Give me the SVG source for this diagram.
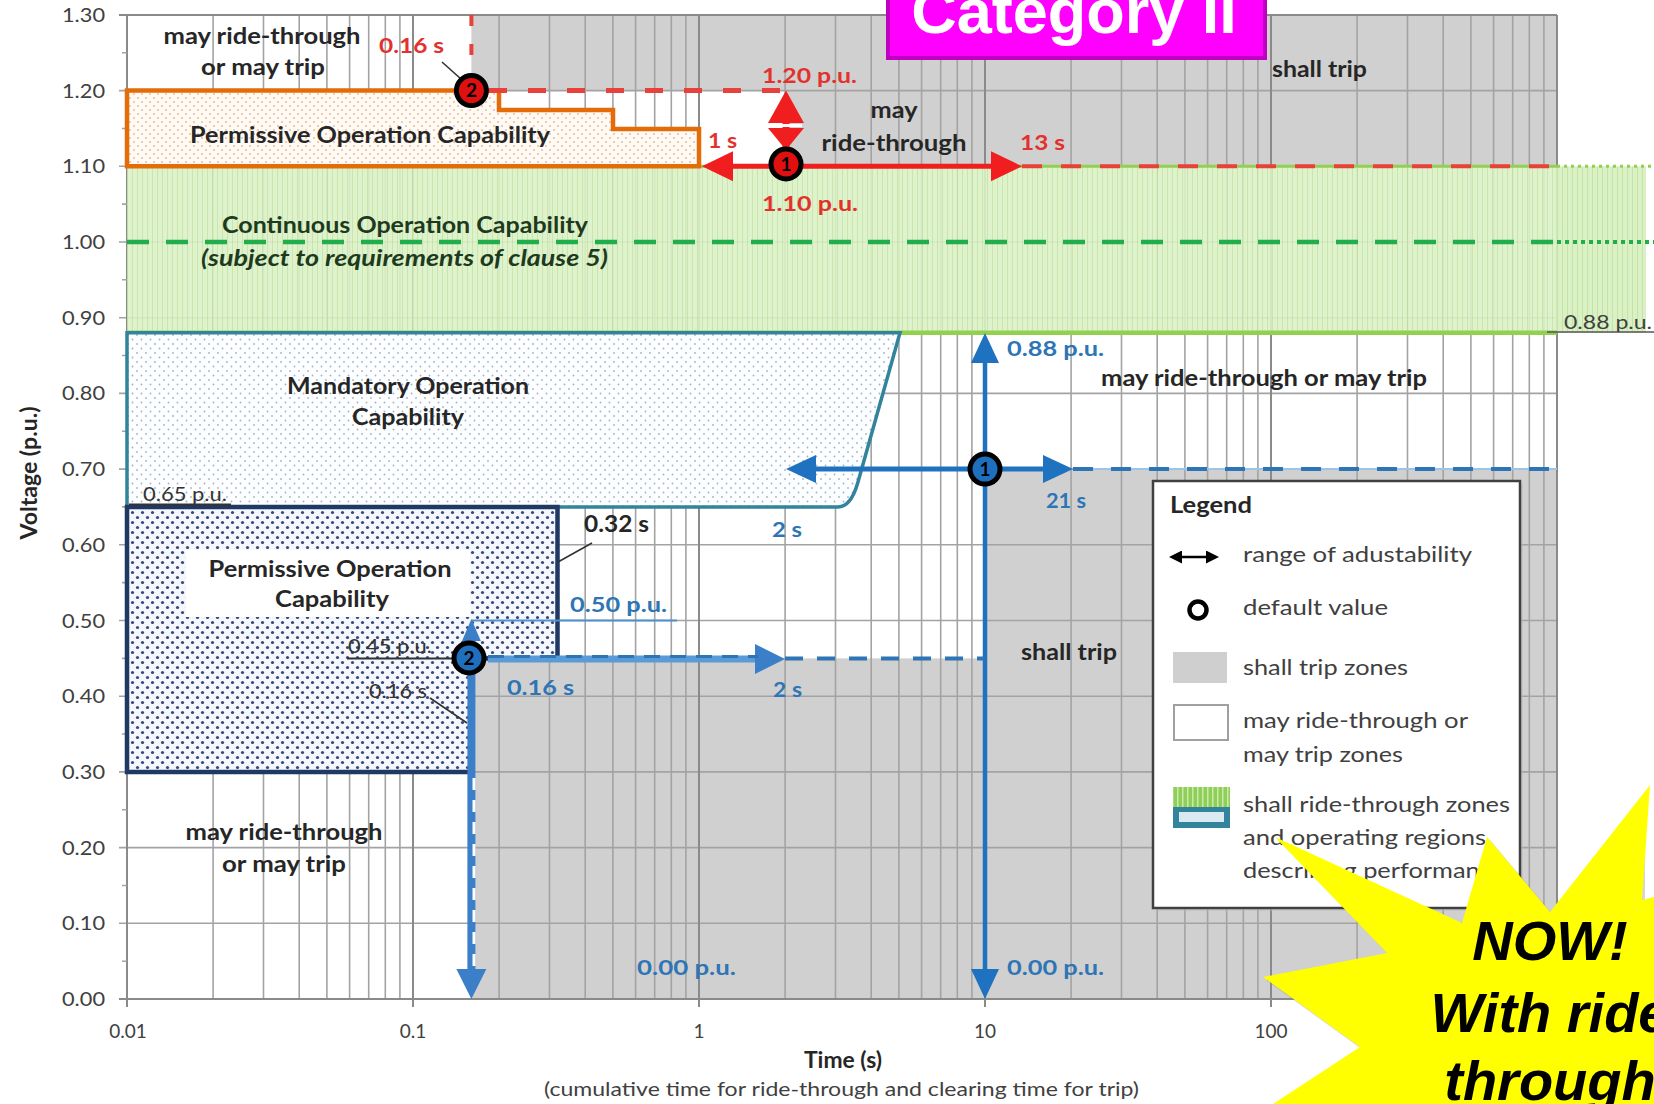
<svg xmlns="http://www.w3.org/2000/svg" width="1654" height="1104" viewBox="0 0 1654 1104">
<defs>
<style>
text{font-family:Lato,"Open Sans","DejaVu Sans",sans-serif}
.lb{font-weight:bold;font-size:22px;fill:#262626}
.red{font-weight:bold;font-size:21px;fill:#e3312d}
.blue{font-weight:bold;font-size:21px;fill:#2e75b6}
.ax{font-size:19px;fill:#404040}
.sm{font-size:19px;fill:#333}
.lg{font-size:21px;fill:#404040}
.num{font-weight:bold;font-size:19px;fill:#000;text-anchor:middle}
.ctr{text-anchor:middle}
.end{text-anchor:end}
.grid{fill:none;stroke:#a3a3a3;stroke-width:1.6}
.gridM{fill:none;stroke:#8a8a8a;stroke-width:2}
.lead{stroke:#333;stroke-width:1.6;fill:none}
.star{font-family:"Liberation Sans",Arial,sans-serif;font-weight:bold;font-style:italic;font-size:56px;fill:#000;text-anchor:middle}
</style>
<pattern id="pOr" width="8" height="8" patternUnits="userSpaceOnUse"><rect width="8" height="8" fill="#fffaf4"/><circle cx="2" cy="2" r="1" fill="#e6bd9c"/><circle cx="6" cy="6" r="1" fill="#e6bd9c"/></pattern>
<pattern id="pTe" width="9" height="9" patternUnits="userSpaceOnUse"><rect width="9" height="9" fill="#fdfeff"/><circle cx="2" cy="2" r="0.9" fill="#a3b3c3"/><circle cx="6.5" cy="6.5" r="0.9" fill="#a3b3c3"/></pattern>
<pattern id="pNv" width="10" height="10" patternUnits="userSpaceOnUse"><rect width="10" height="10" fill="#f5f7fc"/><circle cx="2.5" cy="2.5" r="1.6" fill="#34497a"/><circle cx="7.5" cy="7.5" r="1.6" fill="#34497a"/></pattern>
<pattern id="pGr" width="5" height="10" patternUnits="userSpaceOnUse"><rect width="5" height="10" fill="#daf0c5"/><rect x="2" width="1" height="10" fill="#c4e3a5"/></pattern>
<pattern id="pGrI" width="5" height="6" patternUnits="userSpaceOnUse"><rect width="5" height="6" fill="#8fce58"/><rect x="2" width="1.5" height="6" fill="#c9eaa8"/></pattern>
<marker id="hR" markerUnits="userSpaceOnUse" markerWidth="32" markerHeight="32" viewBox="0 0 32 32" refX="16" refY="16" orient="auto-start-reverse"><path d="M0 1L31 16L0 31Z" fill="#f01e1e"/></marker>
<marker id="hB" markerUnits="userSpaceOnUse" markerWidth="30" markerHeight="30" viewBox="0 0 30 30" refX="15" refY="15" orient="auto-start-reverse"><path d="M0 1L30 15L0 29Z" fill="#1f72c0"/></marker>
<marker id="hB2" markerUnits="userSpaceOnUse" markerWidth="30" markerHeight="32" viewBox="0 0 30 32" refX="15" refY="16" orient="auto-start-reverse"><path d="M0 1L30 16L0 31Z" fill="#3a7fc8"/></marker>
<marker id="hK" markerUnits="userSpaceOnUse" markerWidth="13" markerHeight="13" viewBox="0 0 13 13" refX="6" refY="6.5" orient="auto-start-reverse"><path d="M0 0L13 6.5L0 13Z" fill="#000"/></marker>
</defs>

<rect width="1654" height="1104" fill="#fff"/>

<g id="shall-trip-zones" fill="#d0d0d0">
<rect x="471.4" y="14.9" width="1085.6" height="75.7"/>
<rect x="785.1" y="90.6" width="771.9" height="75.7"/>
<rect x="985" y="469.1" width="572" height="529.9"/>
<rect x="471.4" y="658.4" width="513.6" height="340.6"/>
</g>

<g id="grid">
<path class="grid" d="M213.1 14.9V999M263.5 14.9V999M299.2 14.9V999M326.9 14.9V999M349.6 14.9V999M368.7 14.9V999M385.3 14.9V999M399.9 14.9V999M499.1 14.9V999M549.5 14.9V999M585.2 14.9V999M612.9 14.9V999M635.6 14.9V999M654.7 14.9V999M671.3 14.9V999M685.9 14.9V999M785.1 14.9V999M835.5 14.9V999M871.2 14.9V999M898.9 14.9V999M921.6 14.9V999M940.7 14.9V999M957.3 14.9V999M971.9 14.9V999M1071.1 14.9V999M1121.5 14.9V999M1157.2 14.9V999M1184.9 14.9V999M1207.6 14.9V999M1226.7 14.9V999M1243.3 14.9V999M1257.9 14.9V999M1357.1 14.9V999M1407.5 14.9V999M1443.2 14.9V999M1470.9 14.9V999M1493.6 14.9V999M1512.7 14.9V999M1529.3 14.9V999M1543.9 14.9V999"/>
<path class="grid" d="M119 90.6H1557M119 166.3H1557M119 242H1557M119 317.7H1557M119 393.4H1557M119 469.1H1557M119 544.8H1557M119 620.5H1557M119 696.2H1557M119 771.9H1557M119 847.6H1557M119 923.3H1557"/>
<path class="gridM" d="M127 14.9V1007M413 14.9V1007M699 14.9V1007M985 14.9V1007M1271 14.9V1007M1557 14.9V1007M119 14.9H1557M119 999H1557"/>
<path class="grid" d="M122 961.2H127M122 885.5H127M122 809.8H127M122 734H127M122 658.4H127M122 582.6H127M122 506.9H127M122 431.2H127M122 355.5H127M122 279.8H127M122 204.1H127M122 128.5H127M122 52.8H127"/>
</g>

<g id="axes">
<text class="ax end" x="105" y="21.9" textLength="43" lengthAdjust="spacingAndGlyphs">1.30</text>
<text class="ax end" x="105" y="97.6" textLength="43" lengthAdjust="spacingAndGlyphs">1.20</text>
<text class="ax end" x="105" y="173.3" textLength="43" lengthAdjust="spacingAndGlyphs">1.10</text>
<text class="ax end" x="105" y="249" textLength="43" lengthAdjust="spacingAndGlyphs">1.00</text>
<text class="ax end" x="105" y="324.7" textLength="43" lengthAdjust="spacingAndGlyphs">0.90</text>
<text class="ax end" x="105" y="400.4" textLength="43" lengthAdjust="spacingAndGlyphs">0.80</text>
<text class="ax end" x="105" y="476.1" textLength="43" lengthAdjust="spacingAndGlyphs">0.70</text>
<text class="ax end" x="105" y="551.8" textLength="43" lengthAdjust="spacingAndGlyphs">0.60</text>
<text class="ax end" x="105" y="627.5" textLength="43" lengthAdjust="spacingAndGlyphs">0.50</text>
<text class="ax end" x="105" y="703.2" textLength="43" lengthAdjust="spacingAndGlyphs">0.40</text>
<text class="ax end" x="105" y="778.9" textLength="43" lengthAdjust="spacingAndGlyphs">0.30</text>
<text class="ax end" x="105" y="854.6" textLength="43" lengthAdjust="spacingAndGlyphs">0.20</text>
<text class="ax end" x="105" y="930.3" textLength="43" lengthAdjust="spacingAndGlyphs">0.10</text>
<text class="ax end" x="105" y="1006" textLength="43" lengthAdjust="spacingAndGlyphs">0.00</text>
<text class="ax ctr" x="128" y="1038">0.01</text>
<text class="ax ctr" x="413" y="1038">0.1</text>
<text class="ax ctr" x="699" y="1038">1</text>
<text class="ax ctr" x="985" y="1038">10</text>
<text class="ax ctr" x="1271" y="1038">100</text>
<text class="lb ctr" x="843" y="1068" font-size="20" textLength="78" lengthAdjust="spacingAndGlyphs">Time (s)</text>
<text class="ax" x="544" y="1096" font-size="20" textLength="595" lengthAdjust="spacingAndGlyphs">(cumulative time for ride-through and clearing time for trip)</text>
<text class="lb ctr" transform="translate(37 473) rotate(-90)" font-size="20" textLength="133" lengthAdjust="spacingAndGlyphs">Voltage (p.u.)</text>
</g>

<g id="continuous-operation">
<rect x="127" y="166.3" width="1430" height="166.5" fill="url(#pGr)" opacity="0.9"/>
<rect x="1557" y="166.3" width="89" height="166.5" fill="url(#pGr)"/>
<path d="M127 166.3H1557" stroke="#92d050" stroke-width="3"/>
<path d="M1557 166.3H1654" stroke="#92d050" stroke-width="3" stroke-dasharray="3 4"/>
<path d="M127 332.8H1557" stroke="#92d050" stroke-width="4.5"/>
<path d="M127 242H1557" stroke="#1fae4b" stroke-width="4.5" stroke-dasharray="22 17"/>
<path d="M1557 242H1654" stroke="#1fae4b" stroke-width="4" stroke-dasharray="4 4"/>
</g>

<g id="permissive-over">
<path d="M127 90.6H499V110H613V129H699V166.3H127Z" fill="url(#pOr)" stroke="#e36c09" stroke-width="4.5"/>
</g>

<g id="mandatory-operation">
<path d="M127 332.8H900L858 482Q851 507 838 507H127Z" fill="url(#pTe)" stroke="#31849b" stroke-width="3.5"/>
</g>

<g id="permissive-under">
<path d="M127 507H557.5V658.4H471.4V771.9H127Z" fill="url(#pNv)" stroke="#1f3864" stroke-width="4.5"/>
<rect x="186" y="550" width="284" height="67" fill="#fff"/>
</g>

<g id="connectors">
<path d="M471.4 15V72" stroke="#e8403a" stroke-width="4" stroke-dasharray="11 18"/>
<path d="M489 90.6H780" stroke="#e8403a" stroke-width="5" stroke-dasharray="18 21"/>
<line x1="717" y1="166.3" x2="1007" y2="166.3" stroke="#f01e1e" stroke-width="5" marker-start="url(#hR)" marker-end="url(#hR)"/>
<path d="M1022 166.3H1557" stroke="#e8403a" stroke-width="4" stroke-dasharray="20 19"/>
<rect x="782.5" y="110" width="7" height="40" fill="#f01e1e"/>
<path d="M786 90.6L768 123H804Z" fill="#f01e1e"/>
<path d="M768 128H804L786 150Z" fill="#f01e1e"/>
<path d="M770 125.5H802" stroke="#fff" stroke-width="3"/>
<line x1="985" y1="348" x2="985" y2="984" stroke="#1f72c0" stroke-width="4.5" marker-start="url(#hB)" marker-end="url(#hB)"/>
<line x1="801" y1="469.1" x2="1058" y2="469.1" stroke="#1f72c0" stroke-width="5" marker-start="url(#hB)" marker-end="url(#hB)"/>
<path d="M1073 469.1H1557" stroke="#9dc3e6" stroke-width="2"/>
<path d="M1073 469.1H1557" stroke="#2e75b6" stroke-width="4" stroke-dasharray="20 18"/>
<path d="M471.4 620.5H677" stroke="#4f91d0" stroke-width="2"/>
<path d="M471.4 619L462 641H480.8Z" fill="#3a7fc8"/>
<line x1="471.4" y1="640" x2="471.4" y2="984" stroke="#3a7fc8" stroke-width="8" marker-end="url(#hB2)"/>
<path d="M474 778V968" stroke="#fff" stroke-width="3" stroke-dasharray="12 10"/>
<line x1="488" y1="659" x2="770" y2="659" stroke="#5b9bd5" stroke-width="7" marker-end="url(#hB2)"/>
<path d="M488 656.5H758" stroke="#2e75b6" stroke-width="3" stroke-dasharray="16 10"/>
<path d="M785 658.4H985" stroke="#2e75b6" stroke-width="4" stroke-dasharray="18 14"/>
<path class="lead" d="M442 62L461 79"/>
<path class="lead" d="M558 562L592 543"/>
<path class="lead" d="M430 698L467 723"/>
<path d="M129 504.5H231" stroke="#333" stroke-width="2"/>
<path d="M347 658.4H455" stroke="#333" stroke-width="2"/>
<path d="M1547 332H1654" stroke="#555" stroke-width="1.6"/>
</g>

<g id="default-values">
<g id="dv-over-2"><circle cx="471.4" cy="90.6" r="15" fill="#e01010" stroke="#000" stroke-width="5"/><text class="num" x="471.4" y="97.4">2</text></g>
<g id="dv-over-1"><circle cx="786" cy="164" r="15" fill="#e01010" stroke="#000" stroke-width="5"/><text class="num" x="786" y="170.8">1</text></g>
<g id="dv-under-2"><circle cx="469" cy="658" r="15" fill="#1f6fbf" stroke="#000" stroke-width="5"/><text class="num" x="469" y="664.8">2</text></g>
<g id="dv-under-1"><circle cx="985" cy="469.1" r="15" fill="#1f6fbf" stroke="#000" stroke-width="5"/><text class="num" x="985" y="475.9">1</text></g>
</g>

<g id="labels">
<text class="lb ctr" x="262" y="44" textLength="197" lengthAdjust="spacingAndGlyphs">may ride-through</text>
<text class="lb ctr" x="263" y="75" textLength="124" lengthAdjust="spacingAndGlyphs">or may trip</text>
<text class="red" x="379" y="53" textLength="65" lengthAdjust="spacingAndGlyphs">0.16 s</text>
<text class="lb" x="190" y="143" textLength="360" lengthAdjust="spacingAndGlyphs">Permissive Operation Capability</text>
<text class="lb" x="222" y="233" style="fill:#1e3a1e" textLength="366" lengthAdjust="spacingAndGlyphs">Continuous Operation Capability</text>
<text class="lb" x="201" y="266" font-style="italic" style="fill:#1e3a1e" textLength="407" lengthAdjust="spacingAndGlyphs">(subject to requirements of clause 5)</text>
<text class="red" x="762" y="83" textLength="95" lengthAdjust="spacingAndGlyphs">1.20 p.u.</text>
<text class="red" x="708" y="148" textLength="29" lengthAdjust="spacingAndGlyphs">1 s</text>
<text class="red" x="762" y="211" textLength="96" lengthAdjust="spacingAndGlyphs">1.10 p.u.</text>
<text class="red" x="1020" y="150" textLength="45" lengthAdjust="spacingAndGlyphs">13 s</text>
<text class="lb ctr" x="894" y="118" textLength="47" lengthAdjust="spacingAndGlyphs">may</text>
<text class="lb ctr" x="894" y="151" textLength="145" lengthAdjust="spacingAndGlyphs">ride-through</text>
<text class="lb" x="1272" y="77" textLength="95" lengthAdjust="spacingAndGlyphs">shall trip</text>
<text class="sm" x="1564" y="329" style="fill:#404040" textLength="88" lengthAdjust="spacingAndGlyphs">0.88 p.u.</text>
<text class="lb" x="1101" y="386" textLength="326" lengthAdjust="spacingAndGlyphs">may ride-through or may trip</text>
<text class="blue" x="1007" y="356" textLength="97" lengthAdjust="spacingAndGlyphs">0.88 p.u.</text>
<text class="lb ctr" x="408" y="394" font-size="23" textLength="242" lengthAdjust="spacingAndGlyphs">Mandatory Operation</text>
<text class="lb ctr" x="408" y="425" font-size="23" textLength="112" lengthAdjust="spacingAndGlyphs">Capability</text>
<text class="sm" x="143" y="501" textLength="84" lengthAdjust="spacingAndGlyphs">0.65 p.u.</text>
<text class="lb ctr" x="330" y="577" font-size="23" textLength="243" lengthAdjust="spacingAndGlyphs">Permissive Operation</text>
<text class="lb ctr" x="332" y="607" font-size="23" textLength="114" lengthAdjust="spacingAndGlyphs">Capability</text>
<text class="lb" x="584" y="532" textLength="65" lengthAdjust="spacingAndGlyphs">0.32 s</text>
<text class="blue" x="772" y="537" textLength="30" lengthAdjust="spacingAndGlyphs">2 s</text>
<text class="blue" x="570" y="612" textLength="97" lengthAdjust="spacingAndGlyphs">0.50 p.u.</text>
<text class="sm" x="348" y="653" textLength="84" lengthAdjust="spacingAndGlyphs">0.45 p.u.</text>
<text class="sm" x="369" y="698" textLength="58" lengthAdjust="spacingAndGlyphs">0.16 s</text>
<text class="blue" x="507" y="695" textLength="67" lengthAdjust="spacingAndGlyphs">0.16 s</text>
<text class="blue" x="773" y="697" textLength="29" lengthAdjust="spacingAndGlyphs">2 s</text>
<text class="blue" x="1046" y="508" textLength="40" lengthAdjust="spacingAndGlyphs">21 s</text>
<text class="lb" x="1021" y="660" textLength="96" lengthAdjust="spacingAndGlyphs">shall trip</text>
<text class="blue" x="637" y="975" textLength="99" lengthAdjust="spacingAndGlyphs">0.00 p.u.</text>
<text class="blue" x="1007" y="975" textLength="97" lengthAdjust="spacingAndGlyphs">0.00 p.u.</text>
<text class="lb ctr" x="284" y="840" textLength="197" lengthAdjust="spacingAndGlyphs">may ride-through</text>
<text class="lb ctr" x="284" y="872" textLength="124" lengthAdjust="spacingAndGlyphs">or may trip</text>
</g>

<g id="legend">
<rect x="1156" y="484" width="367" height="427" fill="#bbb" opacity="0.5"/>
<rect x="1153" y="481" width="367" height="427" fill="#fff" stroke="#404040" stroke-width="2.5"/>
<text class="lb" x="1170" y="513" font-size="23" textLength="82" lengthAdjust="spacingAndGlyphs">Legend</text>
<line x1="1176" y1="557" x2="1212" y2="557" stroke="#000" stroke-width="2.5" marker-start="url(#hK)" marker-end="url(#hK)"/>
<text class="lg" x="1243" y="562" textLength="229" lengthAdjust="spacingAndGlyphs">range of adustability</text>
<circle cx="1198" cy="610" r="8.5" fill="none" stroke="#000" stroke-width="4.5"/>
<text class="lg" x="1243" y="615" textLength="145" lengthAdjust="spacingAndGlyphs">default value</text>
<rect x="1173" y="652" width="54" height="31" fill="#cfcfcf"/>
<text class="lg" x="1243" y="675" textLength="165" lengthAdjust="spacingAndGlyphs">shall trip zones</text>
<rect x="1174" y="705" width="54" height="35" fill="#fff" stroke="#a0a0a0" stroke-width="2"/>
<text class="lg" x="1243" y="728" textLength="225" lengthAdjust="spacingAndGlyphs">may ride-through or</text>
<text class="lg" x="1243" y="762" textLength="160" lengthAdjust="spacingAndGlyphs">may trip zones</text>
<rect x="1173" y="787" width="57" height="20" fill="url(#pGrI)"/>
<rect x="1173" y="807" width="57" height="21" fill="#31849b"/>
<rect x="1179" y="812" width="45" height="10" fill="#dbe9f0"/>
<text class="lg" x="1243" y="812" textLength="267" lengthAdjust="spacingAndGlyphs">shall ride-through zones</text>
<text class="lg" x="1243" y="845" textLength="243" lengthAdjust="spacingAndGlyphs">and operating regions</text>
<text class="lg" x="1243" y="878" textLength="262" lengthAdjust="spacingAndGlyphs">describing performance</text>
</g>

<g id="category-badge">
<rect x="888" y="-8" width="377" height="66" fill="#ff00ff" stroke="#c000c0" stroke-width="4"/>
<text x="1074" y="33" text-anchor="middle" style="font-family:'Liberation Sans',Arial,sans-serif;font-weight:bold;font-size:63px;fill:#fff">Category II</text>
</g>

<g id="now-star">
<polygon points="1276,1107 1363,1050 1266,980 1390,956 1278,840 1465,926 1490,840 1553,915 1645,798 1645,903 1654,900 1654,1104" fill="#888" opacity="0.35"/>
<polygon points="1273,1104 1360,1047 1263,977 1387,953 1275,837 1462,923 1487,837 1550,912 1650,785 1642,900 1654,897 1654,1104" fill="#ffff00"/>
<text class="star" x="1550" y="960">NOW!</text>
<text class="star" x="1550" y="1032">With ride</text>
<text class="star" x="1550" y="1100">through</text>
</g>
</svg>
